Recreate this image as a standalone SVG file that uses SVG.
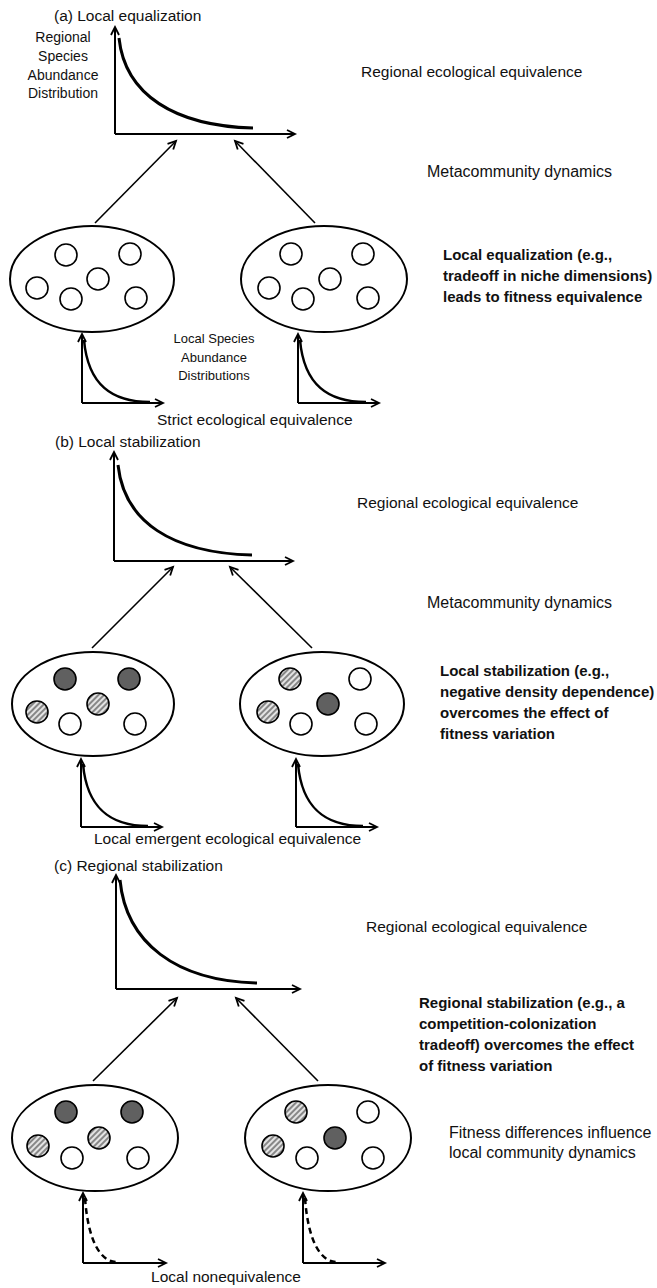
<svg xmlns="http://www.w3.org/2000/svg" width="657" height="1288" viewBox="0 0 657 1288">
<defs>
<style>
text{font-family:"Liberation Sans",Arial,sans-serif;fill:#111;}
.t{font-size:15.5px;}
.m{font-size:16px;}
.s{font-size:14px;}
.xs{font-size:13px;}
.b{font-size:15px;font-weight:bold;}
.ax{fill:none;stroke:#000;stroke-width:2;marker-end:url(#ah);}
.cv{fill:none;stroke:#000;stroke-width:3;}
.cs{fill:none;stroke:#000;stroke-width:2.5;}
.cd{fill:none;stroke:#000;stroke-width:2.5;stroke-dasharray:6 4;}
.el{fill:#fff;stroke:#000;stroke-width:2;}
.w{fill:#fff;stroke:#000;stroke-width:1.6;}
.d{fill:#606060;stroke:#000;stroke-width:1.6;}
.h{fill:url(#hatch);stroke:#000;stroke-width:1.6;}
.cn{fill:none;stroke:#000;stroke-width:1.6;marker-end:url(#ah);}
</style>
<marker id="ah" markerWidth="12" markerHeight="12" refX="9" refY="5" orient="auto" markerUnits="userSpaceOnUse">
<path d="M1,1 L9,5 L1,9" fill="none" stroke="#000" stroke-width="1.8"/>
</marker>
<pattern id="hatch" patternUnits="userSpaceOnUse" width="4" height="4" patternTransform="rotate(45)">
<rect width="4" height="4" fill="#e4e4e4"/>
<line x1="1" y1="0" x2="1" y2="4" stroke="#555" stroke-width="1.3"/>
</pattern>
</defs>

<!-- Panel (a) -->
<g id="a-title"><text class="t" x="54" y="21">(a) Local equalization</text></g>
<g id="a-regional">
<text class="s" text-anchor="middle" x="63" y="42">Regional</text>
<text class="s" text-anchor="middle" x="63" y="61">Species</text>
<text class="s" text-anchor="middle" x="63" y="80">Abundance</text>
<text class="s" text-anchor="middle" x="63" y="98">Distribution</text>
<path class="ax" d="M115,134 V27"/>
<path class="ax" d="M115,134 H295"/>
<path class="cv" d="M119,38 C125,95 175,126 253,128"/>
</g>
<g id="a-labels">
<text class="t" x="361" y="77">Regional ecological equivalence</text>
<text class="m" x="427" y="177">Metacommunity dynamics</text>
<text class="b" x="443" y="260">Local equalization (e.g.,</text>
<text class="b" x="443" y="281">tradeoff in niche dimensions)</text>
<text class="b" x="443" y="302">leads to fitness equivalence</text>
<text class="xs" text-anchor="middle" x="214" y="343">Local Species</text>
<text class="xs" text-anchor="middle" x="214" y="362">Abundance</text>
<text class="xs" text-anchor="middle" x="214" y="380">Distributions</text>
<text class="t" x="157" y="425">Strict ecological equivalence</text>
</g>
<g id="a-comm-left">
<ellipse class="el" cx="92" cy="279" rx="82" ry="53"/>
<circle class="w" cx="66" cy="255" r="11"/>
<circle class="w" cx="130" cy="254" r="11"/>
<circle class="w" cx="98" cy="279" r="11"/>
<circle class="w" cx="37" cy="288" r="11"/>
<circle class="w" cx="71" cy="299" r="11"/>
<circle class="w" cx="136" cy="298" r="11"/>
</g>
<g id="a-comm-right">
<ellipse class="el" cx="324" cy="279" rx="83" ry="53"/>
<circle class="w" cx="291" cy="254" r="11"/>
<circle class="w" cx="363" cy="254" r="11"/>
<circle class="w" cx="330" cy="279" r="11"/>
<circle class="w" cx="269" cy="288" r="11"/>
<circle class="w" cx="303" cy="299" r="11"/>
<circle class="w" cx="368" cy="298" r="11"/>
</g>
<g id="a-local-left">
<path class="ax" d="M82,403 V334"/>
<path class="ax" d="M82,403 H163"/>
<path class="cs" d="M84,340 C88,385 112,402 150,402"/>
</g>
<g id="a-local-right">
<path class="ax" d="M298,403 V334"/>
<path class="ax" d="M298,403 H379"/>
<path class="cs" d="M300,340 C304,385 328,402 366,402"/>
</g>

<!-- Panel (b) -->
<g id="b-title"><text class="t" x="55" y="447">(b) Local stabilization</text></g>
<g id="b-regional">
<path class="ax" d="M114,561 V452"/>
<path class="ax" d="M114,561 H293"/>
<path class="cv" d="M118,465 C124,522 172,553 252,555"/>
</g>
<g id="b-labels">
<text class="t" x="357" y="508">Regional ecological equivalence</text>
<text class="m" x="427" y="608">Metacommunity dynamics</text>
<text class="b" x="440" y="676">Local stabilization (e.g.,</text>
<text class="b" x="440" y="697">negative density dependence)</text>
<text class="b" x="440" y="718">overcomes the effect of</text>
<text class="b" x="440" y="739">fitness variation</text>
<text class="t" x="94" y="844">Local emergent ecological equivalence</text>
</g>
<g id="b-comm-left">
<ellipse class="el" cx="93" cy="704" rx="81" ry="52"/>
<circle class="d" cx="65" cy="679" r="11"/>
<circle class="d" cx="129" cy="679" r="11"/>
<circle class="h" cx="98" cy="704" r="11"/>
<circle class="h" cx="37" cy="712" r="11"/>
<circle class="w" cx="70" cy="724" r="11"/>
<circle class="w" cx="135" cy="724" r="11"/>
</g>
<g id="b-comm-right">
<ellipse class="el" cx="322" cy="704" rx="82" ry="52"/>
<circle class="h" cx="290" cy="679" r="11"/>
<circle class="w" cx="360" cy="679" r="11"/>
<circle class="d" cx="328" cy="704" r="11"/>
<circle class="h" cx="268" cy="712" r="11"/>
<circle class="w" cx="301" cy="724" r="11"/>
<circle class="w" cx="366" cy="724" r="11"/>
</g>
<g id="b-local-left">
<path class="ax" d="M81,827 V759"/>
<path class="ax" d="M81,827 H162"/>
<path class="cs" d="M83,764 C87,809 111,826 148,826"/>
</g>
<g id="b-local-right">
<path class="ax" d="M296,827 V759"/>
<path class="ax" d="M296,827 H377"/>
<path class="cs" d="M298,764 C302,809 326,826 363,826"/>
</g>

<!-- Panel (c) -->
<g id="c-title"><text class="t" x="54" y="871">(c) Regional stabilization</text></g>
<g id="c-regional">
<path class="ax" d="M116,989 V875"/>
<path class="ax" d="M116,989 H300"/>
<path class="cv" d="M120,880 C126,943 176,981 257,983"/>
</g>
<g id="c-labels">
<text class="t" x="366" y="932">Regional ecological equivalence</text>
<text class="b" x="419" y="1008">Regional stabilization (e.g., a</text>
<text class="b" x="419" y="1029">competition-colonization</text>
<text class="b" x="419" y="1050">tradeoff) overcomes the effect</text>
<text class="b" x="419" y="1071">of fitness variation</text>
<text class="m" x="449" y="1138">Fitness differences influence</text>
<text class="m" x="449" y="1158">local community dynamics</text>
<text class="t" x="226" y="1282" text-anchor="middle">Local nonequivalence</text>
</g>
<g id="c-comm-left">
<ellipse class="el" cx="95" cy="1138" rx="83" ry="53"/>
<circle class="d" cx="66" cy="1112" r="11"/>
<circle class="d" cx="132" cy="1112" r="11"/>
<circle class="h" cx="99" cy="1138" r="11"/>
<circle class="h" cx="38" cy="1146" r="11"/>
<circle class="w" cx="72" cy="1158" r="11"/>
<circle class="w" cx="138" cy="1158" r="11"/>
</g>
<g id="c-comm-right">
<ellipse class="el" cx="328" cy="1138" rx="83" ry="53"/>
<circle class="h" cx="296" cy="1112" r="11"/>
<circle class="w" cx="368" cy="1112" r="11"/>
<circle class="d" cx="335" cy="1138" r="11"/>
<circle class="h" cx="273" cy="1146" r="11"/>
<circle class="w" cx="307" cy="1158" r="11"/>
<circle class="w" cx="373" cy="1158" r="11"/>
</g>
<g id="c-local-left">
<path class="ax" d="M83,1263 V1193"/>
<path class="ax" d="M83,1263 H166"/>
<path class="cd" d="M85,1198 C88,1240 100,1262 117,1262"/>
</g>
<g id="c-local-right">
<path class="ax" d="M303,1263 V1193"/>
<path class="ax" d="M303,1263 H385"/>
<path class="cd" d="M305,1198 C308,1240 320,1262 337,1262"/>
</g>

<!-- Connectors -->
<g id="connectors">
<path class="cn" d="M95,223 L176,141"/>
<path class="cn" d="M315,223 L235,141"/>
<path class="cn" d="M92,648 L173,567"/>
<path class="cn" d="M312,648 L230,567"/>
<path class="cn" d="M93,1081 L177,998"/>
<path class="cn" d="M318,1081 L236,998"/>
</g>
</svg>
